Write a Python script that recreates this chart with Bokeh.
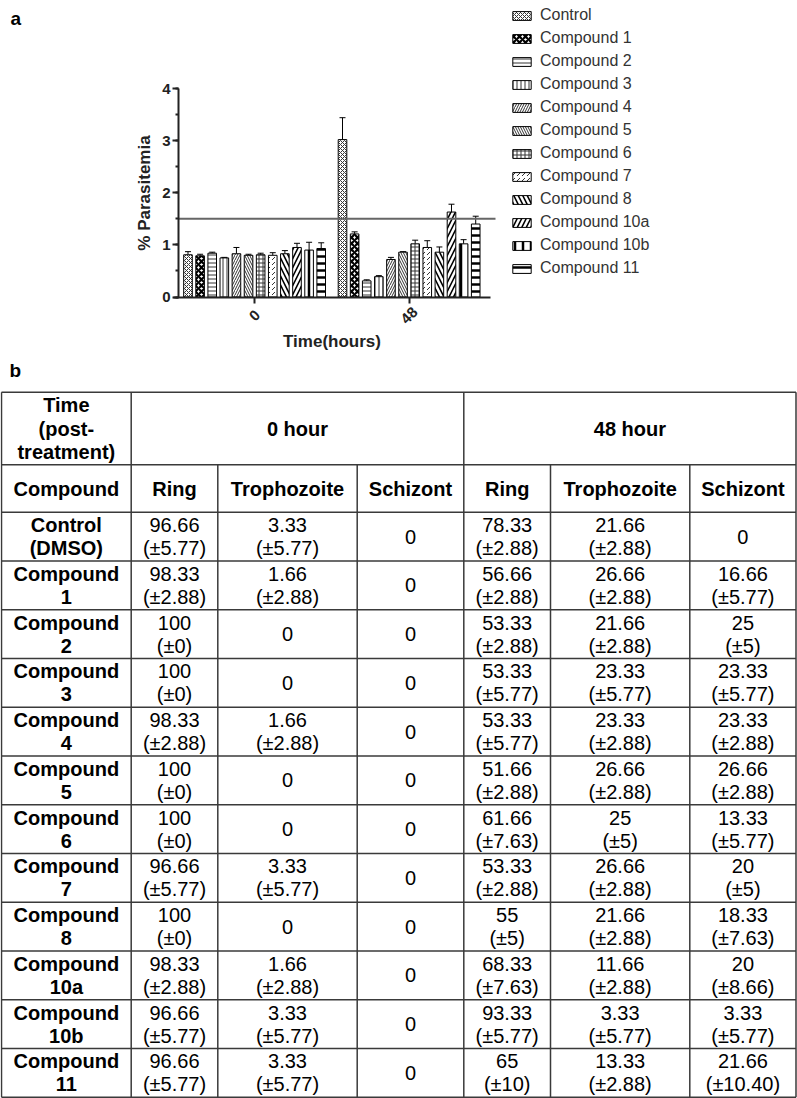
import math
from bokeh.plotting import figure
from bokeh.models import (Range1d, ColumnDataSource, Whisker, TeeHead, LinearAxis, FixedTicker,
                          Legend, LegendItem, Label, SingleIntervalTicker)
from bokeh.transform import dodge
from bokeh.layouts import column
from bokeh.embed import file_html
from bokeh.resources import INLINE
from bokeh.core.properties import value

# ---------------- data: panel a ----------------
times = [0, 48]
time_labels = ["0", "48"]
compounds = ["Control", "Compound 1", "Compound 2", "Compound 3", "Compound 4", "Compound 5",
             "Compound 6", "Compound 7", "Compound 8", "Compound 10a", "Compound 10b", "Compound 11"]
par_0h = [0.81, 0.79, 0.84, 0.75, 0.83, 0.80, 0.81, 0.80, 0.83, 0.95, 0.90, 0.93]
err_0h = [0.06, 0.03, 0.02, 0.01, 0.12, 0.02, 0.03, 0.05, 0.06, 0.08, 0.15, 0.11]
par_48h = [3.02, 1.21, 0.31, 0.39, 0.72, 0.86, 1.02, 0.95, 0.86, 1.63, 1.02, 1.40]
err_48h = [0.42, 0.04, 0.02, 0.02, 0.04, 0.01, 0.07, 0.13, 0.10, 0.15, 0.08, 0.15]
threshold = 1.5

# ---------------- data: panel b ----------------
table_rows = ["Control (DMSO)", "Compound 1", "Compound 2", "Compound 3", "Compound 4", "Compound 5",
              "Compound 6", "Compound 7", "Compound 8", "Compound 10a", "Compound 10b", "Compound 11"]
ring_0h = ["96.66", "98.33", "100", "100", "98.33", "100", "100", "96.66", "100", "98.33", "96.66", "96.66"]
ring_0h_sd = ["5.77", "2.88", "0", "0", "2.88", "0", "0", "5.77", "0", "2.88", "5.77", "5.77"]
troph_0h = ["3.33", "1.66", "0", "0", "1.66", "0", "0", "3.33", "0", "1.66", "3.33", "3.33"]
troph_0h_sd = ["5.77", "2.88", None, None, "2.88", None, None, "5.77", None, "2.88", "5.77", "5.77"]
schiz_0h = ["0", "0", "0", "0", "0", "0", "0", "0", "0", "0", "0", "0"]
schiz_0h_sd = [None, None, None, None, None, None, None, None, None, None, None, None]
ring_48h = ["78.33", "56.66", "53.33", "53.33", "53.33", "51.66", "61.66", "53.33", "55", "68.33", "93.33", "65"]
ring_48h_sd = ["2.88", "2.88", "2.88", "5.77", "5.77", "2.88", "7.63", "2.88", "5", "7.63", "5.77", "10"]
troph_48h = ["21.66", "26.66", "21.66", "23.33", "23.33", "26.66", "25", "26.66", "21.66", "11.66", "3.33", "13.33"]
troph_48h_sd = ["2.88", "2.88", "2.88", "5.77", "2.88", "2.88", "5", "2.88", "2.88", "2.88", "5.77", "2.88"]
schiz_48h = ["0", "16.66", "25", "23.33", "23.33", "26.66", "13.33", "20", "18.33", "20", "3.33", "21.66"]
schiz_48h_sd = [None, "5.77", "5", "5.77", "2.88", "2.88", "5.77", "5", "7.63", "8.66", "5.77", "10.40"]
header_time = ["Time", "(post-", "treatment)"]
header_groups = ["0 hour", "48 hour"]
header_cols = ["Compound", "Ring", "Trophozoite", "Schizont", "Ring", "Trophozoite", "Schizont"]

FONT = "Liberation Sans"
W = 797
H1 = 355
H2 = 1098 - H1

# ---------------- layout constants for panel a (pixels) ----------------
PX_T0 = 254.1      # pixel column of the 0 h group centre
K = 3.219          # pixels per hour
PY_0 = 296.5       # pixel row of 0 %
PY_4 = 88.0        # pixel row of 4 %
KY = (PY_0 - PY_4) / 4.0
YAXIS_PX = 178.0
XAXIS_FROM_PX, XAXIS_TO_PX = 173.0, 490.0
REF_TO_PX = 495.0
TICKLABEL_PY = 315.0

def hx(px):
    return (px - PX_T0) / K

def vy(py):
    return (PY_0 - py) / KY

x_lo, x_hi = hx(0), hx(W)
y_lo, y_hi = vy(H1), vy(0)

hatches = [
    dict(hatch_pattern="diagonal_cross", hatch_scale=4, hatch_weight=1.0, hatch_color="#333"),
    dict(hatch_pattern="diagonal_cross", hatch_scale=6, hatch_weight=2.2, hatch_color="black"),
    dict(hatch_pattern="horizontal_line", hatch_scale=4, hatch_weight=1, hatch_color="#333"),
    dict(hatch_pattern="vertical_line", hatch_scale=4, hatch_weight=1, hatch_color="#333"),
    dict(hatch_pattern="right_diagonal_line", hatch_scale=5, hatch_weight=1, hatch_color="#333"),
    dict(hatch_pattern="left_diagonal_line", hatch_scale=5, hatch_weight=1, hatch_color="#333"),
    dict(hatch_pattern="cross", hatch_scale=4, hatch_weight=1, hatch_color="#333"),
    dict(hatch_pattern="right_diagonal_dash", hatch_scale=5, hatch_weight=1, hatch_color="#333"),
    dict(hatch_pattern="left_diagonal_line", hatch_scale=9, hatch_weight=1.6, hatch_color="black"),
    dict(hatch_pattern="right_diagonal_line", hatch_scale=9, hatch_weight=1.6, hatch_color="black"),
    dict(hatch_pattern="vertical_line", hatch_scale=8, hatch_weight=2.5, hatch_color="black"),
    dict(hatch_pattern="horizontal_line", hatch_scale=7, hatch_weight=2.5, hatch_color="black"),
]

p = figure(width=W, height=H1, x_range=Range1d(x_lo, x_hi), y_range=Range1d(y_lo, y_hi),
           output_backend="svg", toolbar_location=None, min_border=0,
           x_axis_type=None, y_axis_type=None)
p.outline_line_color = None

n = len(compounds)
step = 12.11 / K
bar_w = 8.6 / K
items = []
for i, name in enumerate(compounds):
    off = (i - (n - 1) / 2) * step
    src = ColumnDataSource(dict(time=times, val=[par_0h[i], par_48h[i]],
                                upper=[par_0h[i] + err_0h[i], par_48h[i] + err_48h[i]]))
    r = p.vbar(x=dodge("time", off), top="val", width=bar_w, source=src,
               fill_color="white", line_color="black", line_width=1, **hatches[i])
    w = Whisker(base=dodge("time", off), upper="upper", lower="val", source=src,
                dimension="height", line_color="black", line_width=1,
                upper_head=TeeHead(size=6, line_color="black", line_width=1), lower_head=None)
    p.add_layout(w)
    items.append(LegendItem(label=name, renderers=[r]))

# reference line at 1.5 %
p.segment(x0=[hx(YAXIS_PX)], x1=[hx(REF_TO_PX)], y0=[threshold], y1=[threshold],
          line_color="#666666", line_width=2)

xaxis = LinearAxis(fixed_location=0, bounds=(hx(XAXIS_FROM_PX), hx(XAXIS_TO_PX)),
                   ticker=FixedTicker(ticks=times), axis_label="Time(hours)",
                   major_label_overrides={tk: "" for tk in times})
yaxis = LinearAxis(fixed_location=hx(YAXIS_PX), bounds=(0, 4),
                   ticker=SingleIntervalTicker(interval=1, num_minor_ticks=2),
                   axis_label="% Parasitemia")
for ax in (xaxis, yaxis):
    ax.axis_line_width = 2
    ax.axis_line_color = "#222222"
    ax.major_tick_line_width = 2
    ax.major_tick_line_color = "#222222"
    ax.major_tick_out = 6
    ax.major_tick_in = 0
    ax.major_label_text_font = FONT
    ax.major_label_text_font_size = "15px"
    ax.major_label_text_font_style = "bold"
    ax.major_label_text_color = "#222222"
    ax.axis_label_text_font = FONT
    ax.axis_label_text_font_size = "17px"
    ax.axis_label_text_font_style = "bold"
    ax.axis_label_text_color = "#222222"

yaxis.minor_tick_out = 3
yaxis.minor_tick_in = 0
yaxis.minor_tick_line_width = 2
yaxis.minor_tick_line_color = "#222222"
yaxis.major_label_standoff = 2
yaxis.axis_label_standoff = 5

xaxis.minor_tick_line_color = None
xaxis.major_label_standoff = 0
xaxis.axis_label_standoff = 28

p.add_layout(xaxis, "below")
p.add_layout(yaxis, "left")

# rotated time tick labels, centred under their ticks
for tk, lab in zip(times, time_labels):
    p.add_layout(Label(x=tk, y=vy(TICKLABEL_PY), text=lab, angle=math.pi / 4,
                       text_align="center", text_baseline="middle",
                       text_font=FONT, text_font_size="15px", text_font_style="bold",
                       text_color="#222222"))

legend = Legend(items=items, location=(510, 78), glyph_width=23, glyph_height=11,
                label_standoff=7, spacing=5, padding=0, margin=0,
                border_line_alpha=0, background_fill_alpha=0,
                label_text_font=FONT, label_text_font_size="16px", label_text_color="#333333",
                label_height=16)
p.add_layout(legend)

p.add_layout(Label(x=10, y=H1 - 18, x_units="screen", y_units="screen", text="a",
                   text_font=FONT, text_font_size="19px", text_font_style="bold",
                   text_color="black", text_baseline="alphabetic"))

# ---------------- panel b (table) ----------------
t = figure(width=W, height=H2, x_range=Range1d(0, W), y_range=Range1d(H2, 0),
           output_backend="svg", toolbar_location=None, min_border=0,
           x_axis_type=None, y_axis_type=None)
t.outline_line_color = None

col_edges = [1, 130.7, 217.3, 356.7, 463.3, 550, 689.3, 795.5]
top = 36.7
h1_bot = 109.3
h2_bot = 156.7
row_h = 48.75
row_edges = [top, h1_bot, h2_bot] + [h2_bot + row_h * (k + 1) for k in range(len(table_rows))]
bottom = row_edges[-1]

t.segment(x0=[col_edges[0]] * len(row_edges), x1=[col_edges[-1]] * len(row_edges),
          y0=row_edges, y1=row_edges, line_color="#3a3a3a", line_width=1.5)
full_x = [col_edges[0], col_edges[1], col_edges[4], col_edges[7]]
part_x = [col_edges[2], col_edges[3], col_edges[5], col_edges[6]]
t.segment(x0=full_x, x1=full_x, y0=[top] * 4, y1=[bottom] * 4, line_color="#3a3a3a", line_width=1.5)
t.segment(x0=part_x, x1=part_x, y0=[h1_bot] * 4, y1=[bottom] * 4, line_color="#3a3a3a", line_width=1.5)

bx, by, bt = [], [], []
nx, ny, nt = [], [], []
cx = [(col_edges[k] + col_edges[k + 1]) / 2 for k in range(7)]

hc = (top + h1_bot) / 2
for j, line in enumerate(header_time):
    bx.append(cx[0]); by.append(hc + (j - 1) * 23.5); bt.append(line)
bx += [(col_edges[1] + col_edges[4]) / 2, (col_edges[4] + col_edges[7]) / 2]
by += [hc, hc]
bt += header_groups
h2c = (h1_bot + h2_bot) / 2
for k, lab in enumerate(header_cols):
    bx.append(cx[k]); by.append(h2c); bt.append(lab)

cols = [(ring_0h, ring_0h_sd), (troph_0h, troph_0h_sd), (schiz_0h, schiz_0h_sd),
        (ring_48h, ring_48h_sd), (troph_48h, troph_48h_sd), (schiz_48h, schiz_48h_sd)]
for r, rname in enumerate(table_rows):
    rc = (row_edges[2 + r] + row_edges[3 + r]) / 2
    a, b = rname.split(" ", 1)
    bx += [cx[0], cx[0]]; by += [rc - 11.5, rc + 11.5]; bt += [a, b]
    for k, (vals, sds) in enumerate(cols):
        if sds[r] is None:
            nx.append(cx[k + 1]); ny.append(rc); nt.append(vals[r])
        else:
            nx += [cx[k + 1], cx[k + 1]]
            ny += [rc - 11.5, rc + 11.5]
            nt += [vals[r], "(\u00b1" + sds[r] + ")"]

t.text(x=bx, y=by, text=bt, text_align="center", text_baseline="middle",
       text_font=value(FONT), text_font_size="20px", text_font_style="bold", text_color="black")
t.text(x=nx, y=ny, text=nt, text_align="center", text_baseline="middle",
       text_font=value(FONT), text_font_size="20px", text_font_style="normal", text_color="black")
t.text(x=[9], y=[15], text=["b"], text_align="left", text_baseline="alphabetic",
       text_font=value(FONT), text_font_size="19px", text_font_style="bold", text_color="black")

layout = column(p, t, spacing=0, margin=(0, 0, 0, 0))
open("out.html", "w").write(file_html(layout, INLINE))
